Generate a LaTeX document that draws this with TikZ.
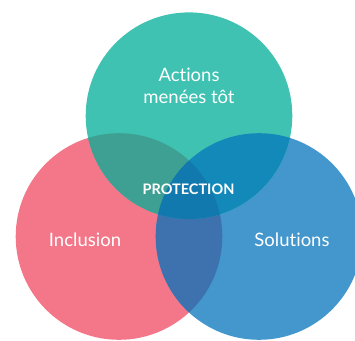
\documentclass[tikz,border=0pt]{standalone}
\usepackage{fontspec}
\setmainfont[Ligatures=NoCommon]{Lato}

\definecolor{tealc}{HTML}{40C2B2}
\definecolor{pinkc}{HTML}{F37789}
\definecolor{bluec}{HTML}{4397CD}
\definecolor{tealpink}{HTML}{3E9F93}
\definecolor{tealblue}{HTML}{1389BA}
\definecolor{pinkblue}{HTML}{3D72AE}
\definecolor{allthree}{HTML}{1279AE}

\begin{document}
\begin{tikzpicture}[
        x=1pt,y=1pt,
        label/.style={text=white,align=center,font=\fontsize{18.5}{22}\selectfont},
        core/.style={text=white,font=\bfseries\fontsize{14.5}{17}\selectfont},
    ]
        \useasboundingbox (0,0) rectangle (355,340);
        \def\rad{103.3}

        % circles
        \coordinate (actions)   at (189,224.3);
        \coordinate (inclusion) at (119,103.5);
        \coordinate (solutions) at (259,103.5);

        \fill[pinkc] (inclusion) circle (\rad);
        \fill[bluec] (solutions) circle (\rad);
        \fill[tealc] (actions) circle (\rad);

        % overlaps
        \begin{scope}
            \clip (inclusion) circle (\rad);
            \fill[pinkblue] (solutions) circle (\rad);
        \end{scope}
        \begin{scope}
            \clip (actions) circle (\rad);
            \fill[tealpink] (inclusion) circle (\rad);
            \fill[tealblue] (solutions) circle (\rad);
            \clip (inclusion) circle (\rad);
            \fill[allthree] (solutions) circle (\rad);
        \end{scope}

        % labels
        \node[label] (actionsText)   at (189,254) {Actions\\menées tôt};
        \node[label] (inclusionText) at (85,100)  {Inclusion};
        \node[label] (solutionsText) at (292,100) {Solutions};
        \node[core]  (protection)    at (188.5,151) {PROTECTION};
    \end{tikzpicture}
\end{document}
